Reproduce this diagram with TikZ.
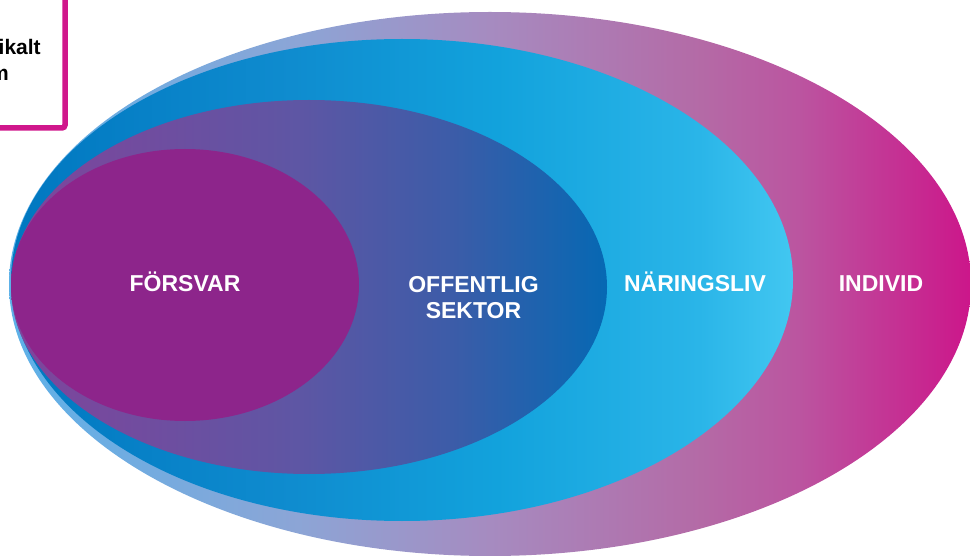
\documentclass[tikz,border=0pt]{standalone}
\usepackage{fontspec}
\setmainfont{Liberation Sans}
\definecolor{boxpink}{HTML}{D0178C}
\definecolor{forsvar}{HTML}{8D258B}
\definecolor{c1}{HTML}{5DB1E8}
\definecolor{c2}{HTML}{8CA5D6}
\definecolor{c3}{HTML}{A68BC0}
\definecolor{c4}{HTML}{B46AA6}
\definecolor{c5}{HTML}{BB55A0}
\definecolor{c6}{HTML}{CC168A}
\definecolor{n1}{HTML}{0077C0}
\definecolor{n2}{HTML}{0F8CCF}
\definecolor{n3}{HTML}{12A2DC}
\definecolor{n4}{HTML}{2AB5E8}
\definecolor{n5}{HTML}{42C7F1}
\definecolor{o1}{HTML}{80449B}
\definecolor{o2}{HTML}{5E56A4}
\definecolor{o3}{HTML}{3C5CA8}
\definecolor{o4}{HTML}{0668B3}
\pgfdeclarehorizontalshading{individshade}{100bp}{
  color(0bp)=(c1); color(25bp)=(c1);
  color(40bp)=(c2); color(50bp)=(c3); color(61bp)=(c4); color(66bp)=(c5);
  color(75bp)=(c6); color(100bp)=(c6)}
\pgfdeclarehorizontalshading{naringshade}{100bp}{
  color(0bp)=(n1); color(25bp)=(n1);
  color(43bp)=(n2); color(56bp)=(n3); color(69bp)=(n4);
  color(75bp)=(n5); color(100bp)=(n5)}
\pgfdeclarehorizontalshading{offshade}{100bp}{
  color(0bp)=(o1); color(25bp)=(o1);
  color(49bp)=(o2); color(62bp)=(o3);
  color(75bp)=(o4); color(100bp)=(o4)}
\tikzset{
  label/.style={text=white, font=\bfseries\fontsize{23}{26.5}\selectfont, inner sep=0pt, align=center},
  boxtext/.style={text=black, font=\bfseries\fontsize{21}{26}\selectfont, inner sep=0pt, anchor=base west}
}
\begin{document}
\begin{tikzpicture}[x=1pt,y=-1pt]
\useasboundingbox (0,0) rectangle (970,556);
\clip (0,0) rectangle (970,556);
% ellipses
\shade[shading=individshade] (490,284) ellipse [x radius=481, y radius=272];
\shade[shading=naringshade] (402,280) ellipse [x radius=391, y radius=241];
\shade[shading=offshade] (309,287) ellipse [x radius=298, y radius=187];
\fill[forsvar] (185,285) ellipse [x radius=174, y radius=136];
% labels
\node[label, anchor=base] (forsvar) at (185,292) {FÖRSVAR};
\node[label, anchor=base] (offentlig) at (473.5,319) {OFFENTLIG\\SEKTOR};
\node[label, anchor=base] (naringsliv) at (695,292) {NÄRINGSLIV};
\node[label, anchor=base] (individ) at (881,292) {INDIVID};
% cropped box
\draw[boxpink, line width=5.5pt, rounded corners=3pt] (-30,-30) rectangle (65,128);
\node[boxtext] (boxa) at (-1.5,55) {ikalt};
\node[boxtext] (boxb) at (-10,81) {m};
\end{tikzpicture}
\end{document}
